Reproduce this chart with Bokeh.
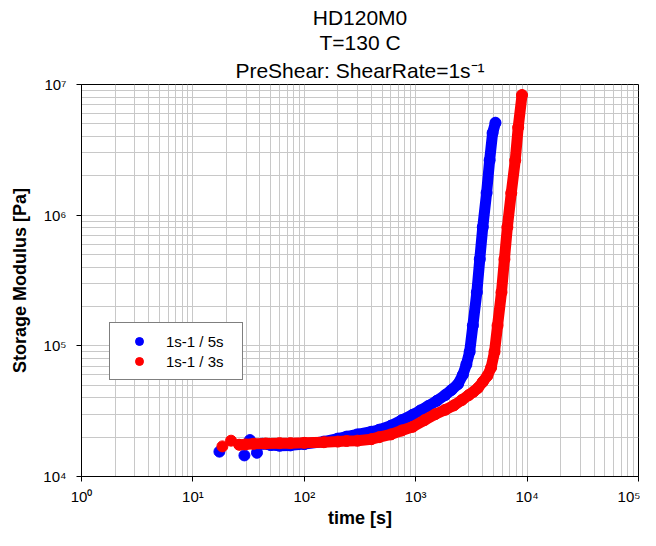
from bokeh.plotting import figure
from bokeh.models import (Title, Legend, LegendItem, FixedTicker,
                          CustomJSTickFormatter, Range1d)
from bokeh.embed import file_html
from bokeh.resources import INLINE

# ---------------- data ----------------
title_lines = ["HD120M0", "T=130 C", "PreShear: ShearRate=1s\u207b\u00b9"]
x_label = "time [s]"
y_label = "Storage Modulus [Pa]"
series_names = ["1s-1 / 5s", "1s-1 / 3s"]

blue_t = [17.3, 29, 32.5, 37.6, 42, 50, 60, 75, 100, 150, 200, 240, 300,
          400, 470, 600, 750, 940, 1100, 1300, 1550, 1840, 2100, 2400,
          2650, 2850, 3050, 3260, 3540, 3760, 4000, 4330, 4610, 4900, 5200]
blue_g = [1.55e4, 1.45e4, 1.9e4, 1.52e4, 1.78e4, 1.74e4, 1.72e4, 1.73e4,
          1.77e4, 1.85e4, 1.95e4, 2.02e4, 2.1e4, 2.2e4, 2.28e4, 2.45e4,
          2.7e4, 2.97e4, 3.2e4, 3.47e4, 3.8e4, 4.2e4, 4.6e4, 5.1e4, 6.0e4,
          7.2e4, 9.0e4, 1.43e5, 2.57e5, 4.6e5, 8.1e5, 1.48e6, 2.63e6,
          4.25e6, 5.1e6]

red_t = [18.4, 22, 26, 29.5, 35, 45, 60, 75, 100, 150, 200, 240, 300, 400,
         470, 600, 750, 940, 1200, 1500, 1840, 2200, 2600, 3000, 3300, 3610,
         4000, 4400, 4750, 5100, 5430, 5890, 6260, 6650, 7210, 7830, 8320,
         9000]
red_g = [1.7e4, 1.88e4, 1.75e4, 1.76e4, 1.78e4, 1.79e4, 1.8e4, 1.8e4,
         1.81e4, 1.83e4, 1.85e4, 1.87e4, 1.88e4, 1.93e4, 2.0e4, 2.1e4,
         2.25e4, 2.4e4, 2.7e4, 3.0e4, 3.24e4, 3.5e4, 3.85e4, 4.2e4, 4.45e4,
         4.75e4, 5.3e4, 5.9e4, 6.8e4, 9.0e4, 1.43e5, 2.57e5, 4.6e5, 8.1e5,
         1.48e6, 2.63e6, 4.7e6, 8.3e6]

x_major = [1, 10, 100, 1000, 10000, 100000]
y_major = [1e4, 1e5, 1e6, 1e7]
# --------------------------------------

FONT = "Liberation Sans"
GRID = "#c8c8c8"

p = figure(width=640, height=530, x_axis_type="log", y_axis_type="log",
           x_range=Range1d(1, 1e5), y_range=Range1d(1e4, 1e7),
           output_backend="svg", toolbar_location=None, title_location=None,
           min_border_left=81, min_border_right=2, min_border_top=84,
           min_border_bottom=51)
p.outline_line_color = "black"
p.outline_line_width = 1
p.background_fill_color = "white"

# title lines, innermost (closest to the frame) first
for i, txt in enumerate(reversed(title_lines)):
    p.add_layout(Title(text=txt, align="center", text_font=FONT,
                       text_font_size="21px", text_font_style="normal",
                       text_color="black", text_line_height=0.9,
                       standoff=6 if i == 0 else 0),
                 "above")

sup = CustomJSTickFormatter(code="""
const s = {"0":"\u2070","1":"\u00b9","2":"\u00b2","3":"\u00b3","4":"\u2074",
           "5":"\u2075","6":"\u2076","7":"\u2077","8":"\u2078","9":"\u2079","-":"\u207b"};
const e = String(Math.round(Math.log10(tick)));
let out = "10";
for (const c of e) out += s[c];
return out;
""")

x_minor = [m * d for d in x_major[:-1] for m in range(2, 10)]
y_minor = [m * d for d in y_major[:-1] for m in range(2, 10)]
xt = FixedTicker(ticks=x_major, minor_ticks=x_minor)
yt = FixedTicker(ticks=y_major, minor_ticks=y_minor)
p.xaxis.ticker = xt
p.yaxis.ticker = yt
p.xgrid.ticker = xt
p.ygrid.ticker = yt

for ax in (p.xaxis, p.yaxis):
    ax.formatter = sup
    ax.axis_line_color = "black"
    ax.major_tick_line_color = "black"
    ax.major_tick_out = 5
    ax.major_tick_in = 0
    ax.minor_tick_line_color = None
    ax.major_label_text_font = FONT
    ax.major_label_text_font_size = "15px"
    ax.major_label_text_color = "black"
    ax.axis_label_text_font = FONT
    ax.axis_label_text_font_size = "18px"
    ax.axis_label_text_font_style = "bold"
    ax.axis_label_text_color = "black"

p.xaxis.axis_label = x_label
p.yaxis.axis_label = y_label
p.xaxis.major_label_standoff = 6
p.xaxis.axis_label_standoff = 0
p.yaxis.major_label_standoff = 10
p.yaxis.axis_label_standoff = 10

for g in (p.xgrid, p.ygrid):
    g.grid_line_color = GRID
    g.grid_line_width = 1
    g.minor_grid_line_color = GRID
    g.minor_grid_line_width = 1

# data
p.line(blue_t[4:], blue_g[4:], line_width=11, color="#0000ff",
       line_join="round", line_cap="round")
rb = p.scatter(blue_t, blue_g, marker="circle", size=11, color="#0000ff")
p.line(red_t[2:], red_g[2:], line_width=11, color="#ff0000",
       line_join="round", line_cap="round")
rr = p.scatter(red_t, red_g, marker="circle", size=11, color="#ff0000")

legend = Legend(items=[LegendItem(label=series_names[0], renderers=[rb]),
                       LegendItem(label=series_names[1], renderers=[rr])],
                location=(28, 96), margin=0, padding=8, spacing=0,
                glyph_width=42, glyph_height=20, label_height=20,
                label_width=68, label_standoff=6,
                border_line_color="black", border_line_width=1,
                background_fill_color="white", background_fill_alpha=1,
                label_text_font=FONT, label_text_font_size="15px",
                label_text_color="black")
p.add_layout(legend)

open("out.html", "w").write(file_html(p, INLINE))
